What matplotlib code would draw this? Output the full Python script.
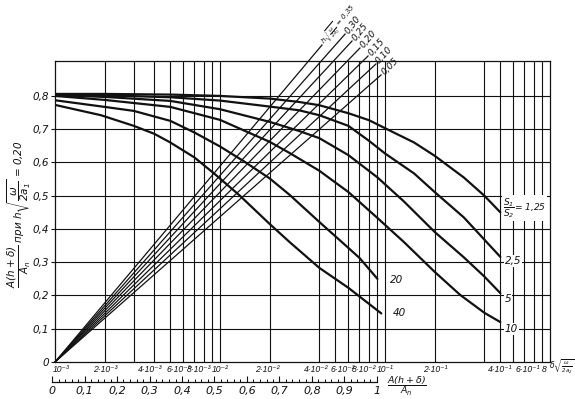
import numpy as np
import matplotlib
matplotlib.use("Agg")
import matplotlib.pyplot as plt
from matplotlib.ticker import NullLocator, MultipleLocator
from matplotlib.transforms import ScaledTranslation

plt.rcParams["font.family"] = "DejaVu Sans"
plt.rcParams["font.style"] = "italic"
plt.rcParams["mathtext.fontset"] = "dejavusans"
plt.rcParams["mathtext.default"] = "it"
narrow = ["Liberation Sans", "DejaVu Sans"]

# S1/S2 family (descending curves)
ratio_labels = [r"$\dfrac{S_1}{S_2}$= 1,25", "2,5", "5", "10", "20", "40"]
x_125 = [0.001, 0.002, 0.005, 0.01, 0.02, 0.03, 0.04, 0.06, 0.08, 0.1, 0.15, 0.2, 0.3, 0.4, 0.5]
y_125 = [0.806, 0.806, 0.804, 0.800, 0.792, 0.782, 0.772, 0.748, 0.727, 0.703, 0.660, 0.620, 0.555, 0.500, 0.450]
x_25 = [0.001, 0.002, 0.005, 0.01, 0.02, 0.03, 0.04, 0.06, 0.08, 0.1, 0.15, 0.2, 0.3, 0.4, 0.5]
y_25 = [0.805, 0.802, 0.796, 0.786, 0.768, 0.757, 0.742, 0.710, 0.665, 0.627, 0.567, 0.511, 0.435, 0.368, 0.316]
x_5 = [0.001, 0.002, 0.005, 0.01, 0.02, 0.03, 0.04, 0.06, 0.09, 0.13, 0.2, 0.3, 0.4, 0.5]
y_5 = [0.803, 0.797, 0.785, 0.760, 0.722, 0.695, 0.673, 0.622, 0.555, 0.483, 0.391, 0.315, 0.257, 0.207]
x_10 = [0.001, 0.002, 0.005, 0.01, 0.02, 0.0265, 0.04, 0.06, 0.09, 0.13, 0.2, 0.285, 0.4, 0.5]
y_10 = [0.800, 0.788, 0.767, 0.728, 0.662, 0.628, 0.575, 0.511, 0.433, 0.361, 0.271, 0.202, 0.148, 0.120]
x_20 = [0.001, 0.002, 0.003, 0.005, 0.007, 0.01, 0.014, 0.02, 0.0265, 0.04, 0.06, 0.07, 0.09]
y_20 = [0.787, 0.767, 0.755, 0.725, 0.690, 0.648, 0.603, 0.552, 0.502, 0.421, 0.343, 0.313, 0.250]
x_40 = [0.001, 0.0019, 0.003, 0.004, 0.005, 0.007, 0.0093, 0.0132, 0.02, 0.0265, 0.04, 0.06, 0.095]
y_40 = [0.773, 0.742, 0.710, 0.686, 0.660, 0.615, 0.565, 0.500, 0.415, 0.360, 0.283, 0.223, 0.146]

# h*sqrt(w/2a1) family (straight rays from the origin)
h_labels = ["0,05", "0,10", "0,15", "0,20", "0,25", "0,30",
            r"$h\sqrt{\frac{\omega}{2a_1}}$ = 0,35"]
fan_end_x = [0.0946, 0.0881, 0.0789, 0.0705, 0.0631, 0.0573, 0.0415]
fan_end_y = [0.863, 0.896, 0.920, 0.944, 0.965, 0.986, 0.953]

# grid / ticks
grid_x = [0.002, 0.003, 0.004, 0.005, 0.006, 0.007, 0.008, 0.009,
          0.01, 0.02, 0.04, 0.05, 0.06, 0.07, 0.08, 0.09,
          0.1, 0.2, 0.4, 0.5, 0.6, 0.7, 0.8, 0.9]
grid_y = [0.1, 0.2, 0.3, 0.4, 0.5, 0.6, 0.7, 0.8]
xtick_vals = [0.001, 0.002, 0.004, 0.006, 0.008, 0.01, 0.02, 0.04, 0.06, 0.08,
              0.1, 0.2, 0.4, 0.6, 0.8]
xtick_text = ["10⁻³", "2·10⁻³", "4·10⁻³", "6·10⁻³", "8·10⁻³", "10⁻²", "2·10⁻²",
              "4·10⁻²", "6·10⁻²", "8·10⁻²", "10⁻¹", "2·10⁻¹", "4·10⁻¹", "6·10⁻¹", "8"]
ytick_vals = [0, 0.1, 0.2, 0.3, 0.4, 0.5, 0.6, 0.7, 0.8]
ytick_text = ["0", "0,1", "0,2", "0,3", "0,4", "0,5", "0,6", "0,7", "0,8"]
scale_vals = [0, 0.1, 0.2, 0.3, 0.4, 0.5, 0.6, 0.7, 0.8, 0.9, 1.0]
scale_text = ["0", "0,1", "0,2", "0,3", "0,4", "0,5", "0,6", "0,7", "0,8", "0,9", "1"]

# horizontal nudge (px) of each x tick label, as lettered on the original sheet
xtick_dx = [6, 1, -4, -5, -5, 0, -2, -3, -6, -5, 0, 1, 16, 14, 10]

W, H = 575, 399
fig = plt.figure(figsize=(W / 100, H / 100), dpi=100)
ax = fig.add_axes([55 / W, (H - 362) / H, 495 / W, 301 / H])
ax.set_xscale("log")
ax.set_xlim(0.001, 1)
ax.set_ylim(0, 0.905)
ink = "#111111"

for gx in grid_x:
    ax.axvline(gx, color=ink, lw=0.8, zorder=1)
for gy in grid_y:
    ax.axhline(gy, color=ink, lw=0.8, zorder=1)
for s in ax.spines.values():
    s.set_color(ink)
    s.set_linewidth(0.9)

ax.xaxis.set_minor_locator(NullLocator())
ax.set_xticks([])
xform = ax.get_xaxis_transform()
for v, t, dx in zip(xtick_vals, xtick_text, xtick_dx):
    ax.text(v, 0, t, transform=xform + ScaledTranslation(dx / 100, -3 / 100, fig.dpi_scale_trans),
            ha="center", va="top", fontsize=6.2, family=narrow, color=ink)
ax.set_yticks(ytick_vals, ytick_text)
ax.tick_params(axis="y", length=3, width=0.8, pad=1.5, labelsize=7.5, colors=ink)

# descending curves
curves = [(x_125, y_125), (x_25, y_25), (x_5, y_5), (x_10, y_10), (x_20, y_20), (x_40, y_40)]
offsets = [(2, 3), (3, -3), (3, -4), (3, -5), (9, -1), (8, 0)]
for (xs, ys), lab, off in zip(curves, ratio_labels, offsets):
    ax.plot(xs, ys, color=ink, lw=1.6, zorder=3, solid_capstyle="round",
            solid_joinstyle="round")
    ax.annotate(lab, (xs[-1], ys[-1]), xytext=off, textcoords="offset points",
                ha="left", va="center", fontsize=6.5 if lab.startswith("$") else 7.5,
                color=ink, zorder=4,
                bbox=dict(fc="white", ec="none", pad=0.6))

# rays
for ex, ey, lab in zip(fan_end_x, fan_end_y, h_labels):
    ax.plot([0.001, ex], [0, ey], color=ink, lw=0.9, zorder=2, clip_on=False)
    p0 = ax.transData.transform((0.001, 0))
    p1 = ax.transData.transform((ex, ey))
    ang = np.degrees(np.arctan2(p1[1] - p0[1], p1[0] - p0[0]))
    d = (p1 - p0) / np.hypot(*(p1 - p0))
    long_lab = lab.startswith("$")
    ax.annotate(lab, (ex, ey), xytext=(d[0] * 1.5, d[1] * 1.5), textcoords="offset points",
                rotation=ang if long_lab else ang + 4, rotation_mode="anchor",
                ha="left", va="center", fontsize=5 if long_lab else 6.5,
                color=ink, annotation_clip=False)

# y label
fig.text(19 / W, 1 - 214 / H,
         r"$\dfrac{A(h+\delta)}{A_n}$ при $h\sqrt{\dfrac{\omega}{2a_1}}$ = 0,20",
         rotation=90, ha="center", va="center", fontsize=7.5, color=ink)

# right-hand x label
fig.text(549 / W, 1 - 367 / H, r"$\delta\sqrt{\frac{\omega}{2a_2}}$",
         ha="left", va="center", fontsize=5.5, color=ink)

# lower linear scale A(h+d)/An
sax = fig.add_axes([52 / W, (H - 382) / H, 325 / W, 0.001])
sax.set_xlim(0, 1)
sax.set_yticks([])
for side in ("left", "right", "top"):
    sax.spines[side].set_visible(False)
sax.spines["bottom"].set_color(ink)
sax.spines["bottom"].set_linewidth(0.9)
sax.patch.set_visible(False)
sax.set_xticks(scale_vals, scale_text)
sax.xaxis.set_minor_locator(MultipleLocator(0.02))
sax.tick_params(axis="x", which="major", direction="in", length=4, width=0.8,
                pad=3, labelsize=8, colors=ink)
sax.tick_params(axis="x", which="minor", direction="in", length=2.2, width=0.7)
fig.text(407 / W, 1 - 386 / H, r"$\dfrac{A(h+\delta)}{A_n}$",
         ha="center", va="center", fontsize=6.8, color=ink)

fig.savefig("out.png", dpi=100, facecolor="white")
